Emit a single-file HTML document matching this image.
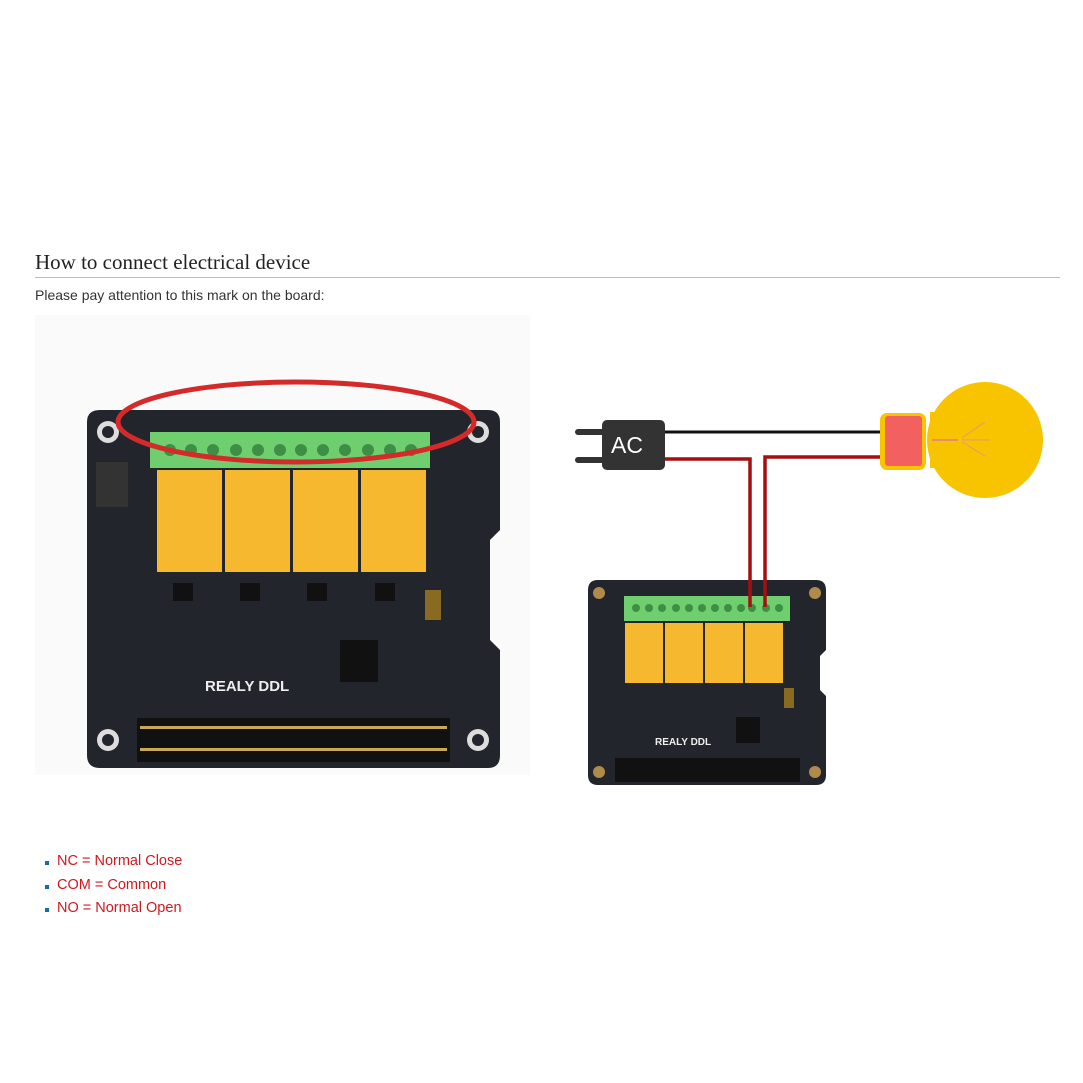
<!DOCTYPE html>
<html><head><style>
body{margin:0;width:1083px;height:1083px;background:#fff;position:relative;overflow:hidden;font-family:"Liberation Sans",sans-serif}
h2{position:absolute;left:35px;top:250px;margin:0;font:21px "Liberation Serif",serif;color:#222}
.hr{position:absolute;left:35px;top:277px;width:1025px;height:1px;background:#bbb}
.p{position:absolute;left:35px;top:287px;font-size:14px;color:#333}
ul{position:absolute;left:40px;top:853px;margin:0;padding:0;list-style:none;font-size:14.5px;color:#d0191f}
li{height:23.5px;position:relative;padding-left:17px}
li:before{content:"";position:absolute;left:5px;top:8px;width:4px;height:4px;background:#1a6aa8}
svg{position:absolute;left:0;top:0}
</style></head><body>
<h2>How to connect electrical device</h2>
<div class="hr"></div>
<div class="p">Please pay attention to this mark on the board:</div>
<svg width="1083" height="1083" viewBox="0 0 1083 1083">
<rect x="35" y="315" width="495" height="460" fill="#fafafa"/>
<!-- left board -->
<path d="M100 410 H488 Q500 410 500 422 V530 L490 540 V640 L500 650 V755 Q500 768 488 768 H100 Q87 768 87 755 V422 Q87 410 100 410 Z" fill="#22252b"/>
<g fill="#ddd"><circle cx="108" cy="432" r="11"/><circle cx="478" cy="432" r="11"/><circle cx="108" cy="740" r="11"/><circle cx="478" cy="740" r="11"/></g>
<g fill="#22252b"><circle cx="108" cy="432" r="6"/><circle cx="478" cy="432" r="6"/><circle cx="108" cy="740" r="6"/><circle cx="478" cy="740" r="6"/></g>
<rect x="150" y="432" width="280" height="36" fill="#6fcf6f"/>
<g fill="#3e8f45">
<circle cx="170" cy="450" r="6"/><circle cx="191" cy="450" r="6"/><circle cx="213" cy="450" r="6"/><circle cx="236" cy="450" r="6"/><circle cx="258" cy="450" r="6"/><circle cx="280" cy="450" r="6"/><circle cx="301" cy="450" r="6"/><circle cx="323" cy="450" r="6"/><circle cx="345" cy="450" r="6"/><circle cx="368" cy="450" r="6"/><circle cx="390" cy="450" r="6"/><circle cx="411" cy="450" r="6"/></g>
<g fill="#f5b82e"><rect x="157" y="470" width="65" height="102"/><rect x="225" y="470" width="65" height="102"/><rect x="293" y="470" width="65" height="102"/><rect x="361" y="470" width="65" height="102"/></g>
<g fill="#111"><rect x="173" y="583" width="20" height="18"/><rect x="240" y="583" width="20" height="18"/><rect x="307" y="583" width="20" height="18"/><rect x="375" y="583" width="20" height="18"/></g>
<rect x="425" y="590" width="16" height="30" fill="#8a6a20"/>
<rect x="340" y="640" width="38" height="42" fill="#111"/>
<rect x="96" y="462" width="32" height="45" fill="#333"/>
<text x="205" y="691" font-size="15" font-weight="bold" fill="#eee">REALY DDL</text>
<rect x="137" y="718" width="313" height="44" fill="#111"/>
<g fill="#c9a85a"><rect x="140" y="726" width="307" height="3"/><rect x="140" y="748" width="307" height="3"/></g>
<ellipse cx="296" cy="422" rx="178" ry="40" fill="none" stroke="#d42a2a" stroke-width="5"/>
<!-- right board -->
<path d="M598 580 H816 Q826 580 826 590 V650 L820 656 V690 L826 696 V775 Q826 785 816 785 H598 Q588 785 588 775 V590 Q588 580 598 580 Z" fill="#22252b"/>
<g fill="#b08a4a"><circle cx="599" cy="593" r="6"/><circle cx="815" cy="593" r="6"/><circle cx="599" cy="772" r="6"/><circle cx="815" cy="772" r="6"/></g>
<rect x="624" y="596" width="166" height="25" fill="#6fcf6f"/>
<g fill="#3e8f45"><circle cx="636" cy="608" r="4"/><circle cx="649" cy="608" r="4"/><circle cx="662" cy="608" r="4"/><circle cx="676" cy="608" r="4"/><circle cx="689" cy="608" r="4"/><circle cx="702" cy="608" r="4"/><circle cx="715" cy="608" r="4"/><circle cx="728" cy="608" r="4"/><circle cx="741" cy="608" r="4"/><circle cx="752" cy="608" r="4"/><circle cx="766" cy="608" r="4"/><circle cx="779" cy="608" r="4"/></g>
<g fill="#f5b82e"><rect x="625" y="623" width="38" height="60"/><rect x="665" y="623" width="38" height="60"/><rect x="705" y="623" width="38" height="60"/><rect x="745" y="623" width="38" height="60"/></g>
<rect x="736" y="717" width="24" height="26" fill="#111"/>
<rect x="784" y="688" width="10" height="20" fill="#8a6a20"/>
<text x="655" y="745" font-size="10" font-weight="bold" fill="#eee">REALY DDL</text>
<rect x="615" y="758" width="185" height="24" fill="#111"/>
<!-- wires -->
<line x1="665" y1="432" x2="882" y2="432" stroke="#111" stroke-width="3"/>
<polyline points="665,459 750,459 750,607" fill="none" stroke="#a50f0f" stroke-width="3.5"/>
<polyline points="765,607 765,457 882,457" fill="none" stroke="#a50f0f" stroke-width="3.5"/>
<!-- AC plug -->
<rect x="575" y="429" width="30" height="6" rx="3" fill="#333"/>
<rect x="575" y="457" width="30" height="6" rx="3" fill="#333"/>
<rect x="602" y="420" width="63" height="50" rx="5" fill="#333"/>
<text x="627" y="453" font-size="23" fill="#fff" text-anchor="middle">AC</text>
<!-- bulb -->
<circle cx="985" cy="440" r="58" fill="#f8c400"/>
<rect x="930" y="412" width="30" height="56" fill="#f8c400"/>
<rect x="880" y="413" width="46" height="57" rx="7" fill="#f8c400"/>
<rect x="885" y="416" width="37" height="50" rx="3" fill="#f26060"/>
<line x1="932" y1="440" x2="958" y2="440" stroke="#e88a80" stroke-width="2"/>
<g stroke="#e8a060" stroke-width="1.3"><line x1="962" y1="440" x2="990" y2="440"/><line x1="962" y1="438" x2="985" y2="422"/><line x1="962" y1="442" x2="985" y2="456"/></g>
</svg>
<ul><li>NC = Normal Close</li><li>COM = Common</li><li>NO = Normal Open</li></ul>
</body></html>
